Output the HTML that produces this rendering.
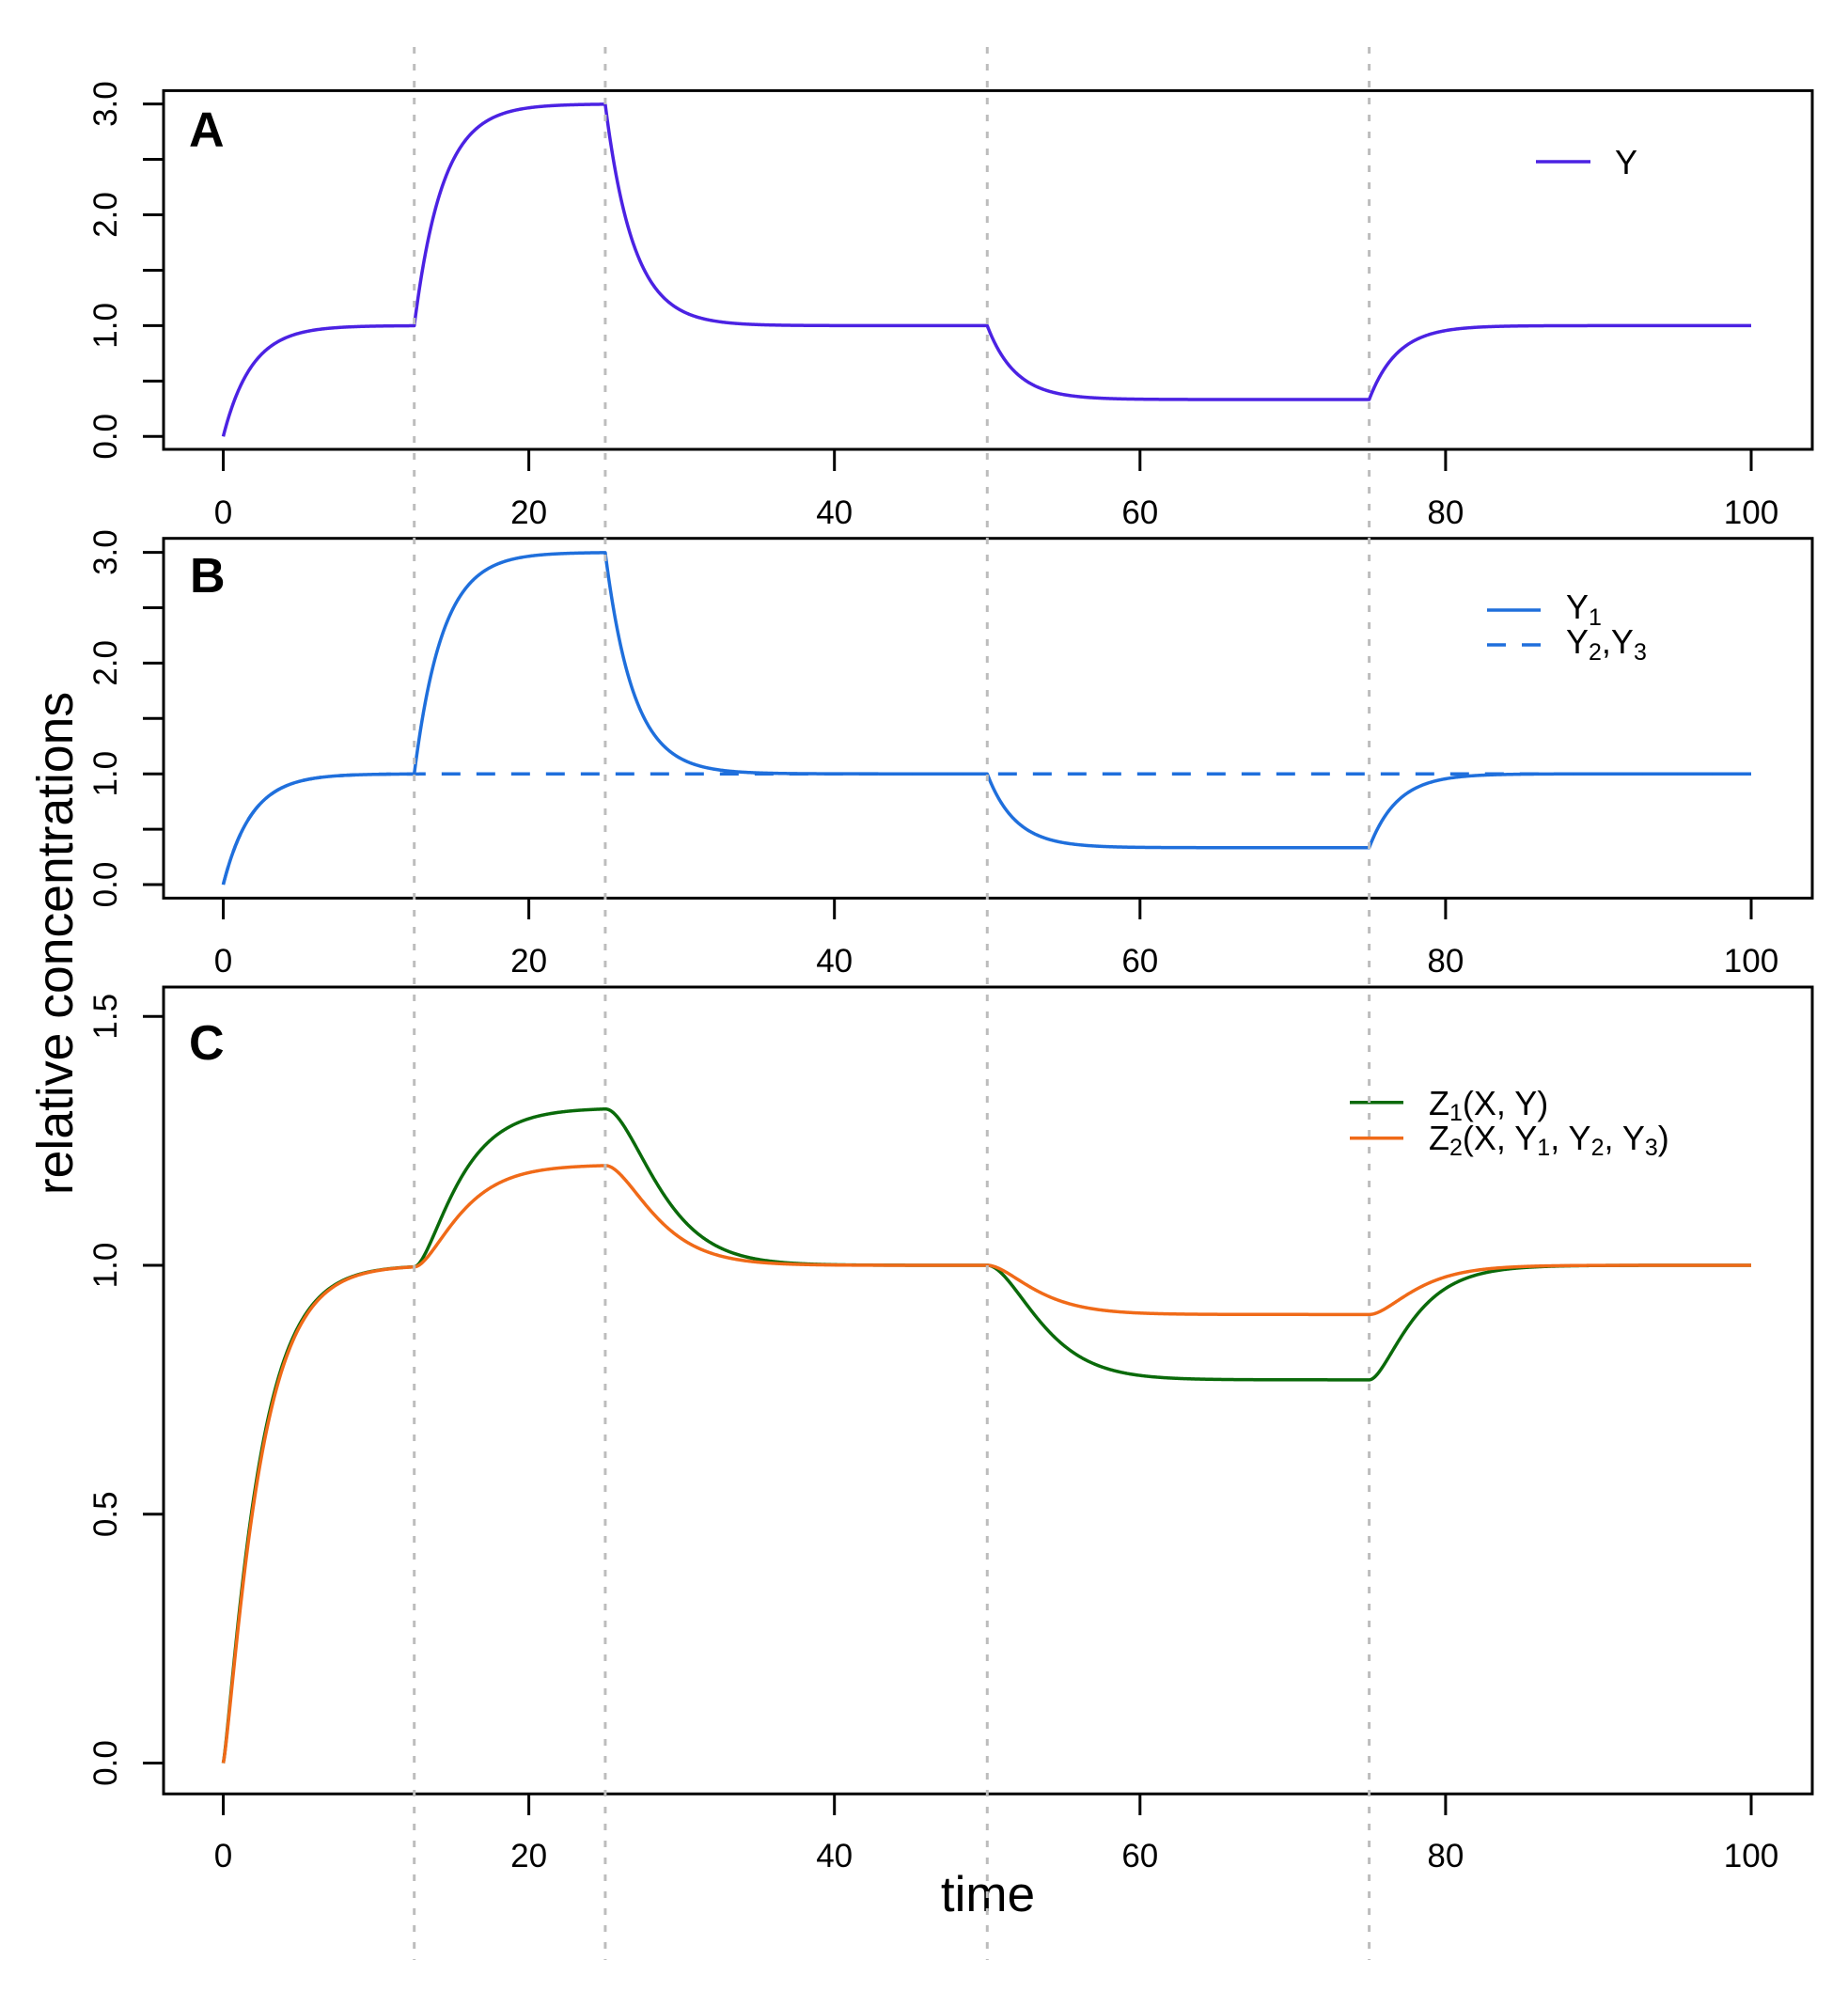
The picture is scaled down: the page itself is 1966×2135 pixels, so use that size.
<!DOCTYPE html>
<html>
<head>
<meta charset="utf-8">
<style>
  html,body{margin:0;padding:0;background:#fff;}
  svg{display:block;}
  text{font-family:"Liberation Sans", Arial, sans-serif; fill:#000;}
</style>
</head>
<body>
<svg width="1966" height="2135" viewBox="0 0 1966 2135">
  <rect x="0" y="0" width="1966" height="2135" fill="#fff"/>

  <!-- ===== Panel boxes ===== -->
  <g fill="none" stroke="#000" stroke-width="3">
    <rect x="174" y="96.4" width="1754" height="381.6"/>
    <rect x="174" y="572.7" width="1754" height="382.7"/>
    <rect x="174" y="1050" width="1754" height="858.3"/>
  </g>

  <!-- ===== Ticks ===== -->
  <g stroke="#000" stroke-width="3">
    <line x1="152" y1="464.3" x2="174" y2="464.3"/>
    <line x1="152" y1="405.35" x2="174" y2="405.35"/>
    <line x1="152" y1="346.4" x2="174" y2="346.4"/>
    <line x1="152" y1="287.45" x2="174" y2="287.45"/>
    <line x1="152" y1="228.5" x2="174" y2="228.5"/>
    <line x1="152" y1="169.55" x2="174" y2="169.55"/>
    <line x1="152" y1="110.6" x2="174" y2="110.6"/>

    <line x1="152" y1="941" x2="174" y2="941"/>
    <line x1="152" y1="882.1" x2="174" y2="882.1"/>
    <line x1="152" y1="823.2" x2="174" y2="823.2"/>
    <line x1="152" y1="764.3" x2="174" y2="764.3"/>
    <line x1="152" y1="705.4" x2="174" y2="705.4"/>
    <line x1="152" y1="646.5" x2="174" y2="646.5"/>
    <line x1="152" y1="587.6" x2="174" y2="587.6"/>

    <line x1="152" y1="1875.5" x2="174" y2="1875.5"/>
    <line x1="152" y1="1610.75" x2="174" y2="1610.75"/>
    <line x1="152" y1="1346" x2="174" y2="1346"/>
    <line x1="152" y1="1081.25" x2="174" y2="1081.25"/>

    <line x1="237.5" y1="478" x2="237.5" y2="501"/>
    <line x1="562.6" y1="478" x2="562.6" y2="501"/>
    <line x1="887.7" y1="478" x2="887.7" y2="501"/>
    <line x1="1212.8" y1="478" x2="1212.8" y2="501"/>
    <line x1="1537.9" y1="478" x2="1537.9" y2="501"/>
    <line x1="1863" y1="478" x2="1863" y2="501"/>

    <line x1="237.5" y1="955.4" x2="237.5" y2="978"/>
    <line x1="562.6" y1="955.4" x2="562.6" y2="978"/>
    <line x1="887.7" y1="955.4" x2="887.7" y2="978"/>
    <line x1="1212.8" y1="955.4" x2="1212.8" y2="978"/>
    <line x1="1537.9" y1="955.4" x2="1537.9" y2="978"/>
    <line x1="1863" y1="955.4" x2="1863" y2="978"/>

    <line x1="237.5" y1="1908.3" x2="237.5" y2="1931"/>
    <line x1="562.6" y1="1908.3" x2="562.6" y2="1931"/>
    <line x1="887.7" y1="1908.3" x2="887.7" y2="1931"/>
    <line x1="1212.8" y1="1908.3" x2="1212.8" y2="1931"/>
    <line x1="1537.9" y1="1908.3" x2="1537.9" y2="1931"/>
    <line x1="1863" y1="1908.3" x2="1863" y2="1931"/>
  </g>

  <!-- ===== X tick labels ===== -->
  <g font-size="35" text-anchor="middle">
    <text x="237.5" y="557">0</text>
    <text x="562.6" y="557">20</text>
    <text x="887.7" y="557">40</text>
    <text x="1212.8" y="557">60</text>
    <text x="1537.9" y="557">80</text>
    <text x="1863" y="557">100</text>

    <text x="237.5" y="1034">0</text>
    <text x="562.6" y="1034">20</text>
    <text x="887.7" y="1034">40</text>
    <text x="1212.8" y="1034">60</text>
    <text x="1537.9" y="1034">80</text>
    <text x="1863" y="1034">100</text>

    <text x="237.5" y="1986">0</text>
    <text x="562.6" y="1986">20</text>
    <text x="887.7" y="1986">40</text>
    <text x="1212.8" y="1986">60</text>
    <text x="1537.9" y="1986">80</text>
    <text x="1863" y="1986">100</text>
  </g>

  <!-- ===== Y tick labels (rotated) ===== -->
  <g font-size="35" text-anchor="middle">
    <text transform="translate(124,464.3) rotate(-90)">0.0</text>
    <text transform="translate(124,346.4) rotate(-90)">1.0</text>
    <text transform="translate(124,228.5) rotate(-90)">2.0</text>
    <text transform="translate(124,110.6) rotate(-90)">3.0</text>

    <text transform="translate(124,941) rotate(-90)">0.0</text>
    <text transform="translate(124,823.2) rotate(-90)">1.0</text>
    <text transform="translate(124,705.4) rotate(-90)">2.0</text>
    <text transform="translate(124,587.6) rotate(-90)">3.0</text>

    <text transform="translate(124,1875.5) rotate(-90)">0.0</text>
    <text transform="translate(124,1610.75) rotate(-90)">0.5</text>
    <text transform="translate(124,1346) rotate(-90)">1.0</text>
    <text transform="translate(124,1081.25) rotate(-90)">1.5</text>
  </g>

  <!-- ===== Axis titles ===== -->
  <text transform="translate(77,1003.5) rotate(-90)" text-anchor="middle" font-size="53.5">relative concentrations</text>
  <text x="1051" y="2033" text-anchor="middle" font-size="53">time</text>

  <!-- ===== Panel letters ===== -->
  <g font-size="52" font-weight="bold">
    <text x="201" y="155.4">A</text>
    <text x="202" y="630">B</text>
    <text x="201" y="1127">C</text>
  </g>

  <!-- ===== Curves (filled by script) ===== -->
  <g fill="none" stroke-width="3.5" stroke-linejoin="round" stroke-linecap="butt">
    <path id="pA" stroke="#4b22e3" d=""/>
    <path id="pB1" stroke="#1f6fdc" d=""/>
    <path id="pB2" stroke="#1f6fdc" stroke-dasharray="20 17" d=""/>
    <path id="pC1" stroke="#0a6a0a" d=""/>
    <path id="pC2" stroke="#f06a18" d=""/>
  </g>

  <!-- ===== Legends ===== -->
  <g stroke-width="3.5">
    <line x1="1634" y1="172" x2="1692" y2="172" stroke="#4b22e3"/>
    <line x1="1582" y1="649" x2="1639" y2="649" stroke="#1f6fdc"/>
    <line x1="1582" y1="686" x2="1639" y2="686" stroke="#1f6fdc" stroke-dasharray="20 17"/>
    <line x1="1436" y1="1172.7" x2="1493" y2="1172.7" stroke="#0a6a0a"/>
    <line x1="1436" y1="1210.7" x2="1493" y2="1210.7" stroke="#f06a18"/>
  </g>
  <g font-size="36">
    <text x="1718" y="185">Y</text>
    <text x="1666" y="658">Y<tspan font-size="25" dy="7">1</tspan></text>
    <text x="1666" y="695">Y<tspan font-size="25" dy="7">2</tspan><tspan dy="-7">,Y</tspan><tspan font-size="25" dy="7">3</tspan></text>
    <text x="1520" y="1186">Z<tspan font-size="25" dy="6">1</tspan><tspan dy="-6">(X, Y)</tspan></text>
    <text x="1520" y="1223">Z<tspan font-size="25" dy="6">2</tspan><tspan dy="-6">(X, Y</tspan><tspan font-size="25" dy="6">1</tspan><tspan dy="-6">, Y</tspan><tspan font-size="25" dy="6">2</tspan><tspan dy="-6">, Y</tspan><tspan font-size="25" dy="6">3</tspan><tspan dy="-6">)</tspan></text>
  </g>

  <!-- ===== Vertical dotted event lines ===== -->
  <g stroke="#bdbdbd" stroke-width="3" stroke-dasharray="7 11">
    <line x1="440.7" y1="50" x2="440.7" y2="2085"/>
    <line x1="643.9" y1="50" x2="643.9" y2="2085"/>
    <line x1="1050.3" y1="50" x2="1050.3" y2="2085"/>
    <line x1="1456.6" y1="50" x2="1456.6" y2="2085"/>
  </g>
</svg>

<script>
(function(){
  var k = 0.54, kz = 0.55, dt = 0.005, N = 20000;
  function Xof(i){
    if (i < 2500) return 1;
    if (i < 5000) return 3;
    if (i < 10000) return 1;
    if (i < 15000) return 1/3;
    return 1;
  }
  function T1(Y, ph0){
    Y = Math.max(0, Y);
    var p = Y >= 1 ? 0.25 : (ph0 ? 0.245 : 0.238);
    return Math.pow(Y, p);
  }
  function T2(Y1, Y2, ph0){
    var Yb = Math.max(0, (Y1 + 2*Y2)/3);
    var p = Yb >= 1 ? 0.36 : (ph0 ? 0.27 : 0.414);
    return Math.pow(Yb, p);
  }
  function deriv(s, X, ph0){
    return [
      k*(X - s[0]),
      k*(1 - s[1]),
      kz*(T1(s[0], ph0) - s[2]),
      kz*(T2(s[0], s[1], ph0) - s[3])
    ];
  }
  function add(s, d, h){ return [s[0]+d[0]*h, s[1]+d[1]*h, s[2]+d[2]*h, s[3]+d[3]*h]; }

  function px(t){ return 237.5 + 16.255*t; }
  function yA(v){ return 464.3 - 117.9*v; }
  function yB(v){ return 941 - 117.8*v; }
  function yC(v){ return 1875.5 - 529.5*v; }

  var s = [0,0,0,0];
  var a=[], b1=[], b2=[], c1=[], c2=[];
  function rec(i){
    var t = i*dt, x = px(t).toFixed(2);
    a.push(x+","+yA(s[0]).toFixed(2));
    b1.push(x+","+yB(s[0]).toFixed(2));
    b2.push(x+","+yB(s[1]).toFixed(2));
    c1.push(x+","+yC(s[2]).toFixed(2));
    c2.push(x+","+yC(s[3]).toFixed(2));
  }
  rec(0);
  for (var i=0; i<N; i++){
    var X = Xof(i), ph0 = i < 2500;
    var k1 = deriv(s, X, ph0);
    var k2 = deriv(add(s,k1,dt/2), X, ph0);
    var k3 = deriv(add(s,k2,dt/2), X, ph0);
    var k4 = deriv(add(s,k3,dt), X, ph0);
    for (var j=0;j<4;j++){
      s[j] += dt/6*(k1[j] + 2*k2[j] + 2*k3[j] + k4[j]);
    }
    if ((i+1) % 10 === 0) rec(i+1);
  }
  function setD(id, arr){ document.getElementById(id).setAttribute("d", "M" + arr.join(" L")); }
  setD("pA", a);
  setD("pB1", b1);
  setD("pB2", b2);
  setD("pC1", c1);
  setD("pC2", c2);
})();
</script>
</body>
</html>
